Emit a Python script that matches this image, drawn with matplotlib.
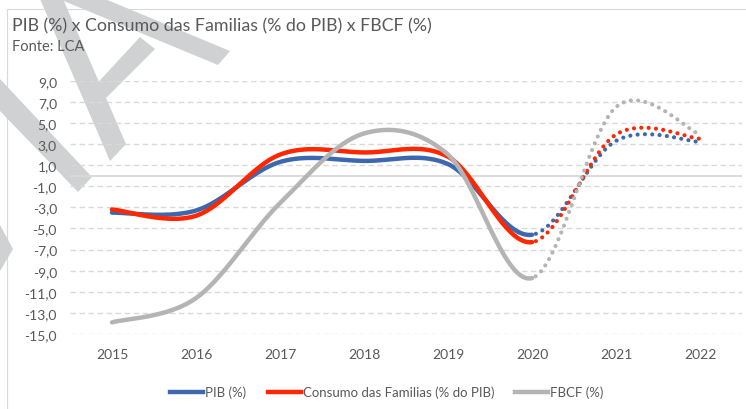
import numpy as np
import matplotlib
matplotlib.use("Agg")
import matplotlib.pyplot as plt
from matplotlib.patches import Polygon, Rectangle

plt.rcParams['font.family'] = ['Lato', 'DejaVu Sans']

# Data; 2021-2022 are projections (dotted)
anos = ['2015', '2016', '2017', '2018', '2019', '2020', '2021', '2022']
pib = [-3.5, -3.3, 1.3, 1.4, 1.1, -5.6, 3.3, 3.2]
consumo = [-3.2, -3.8, 2.0, 2.2, 1.8, -6.3, 3.9, 3.5]
fbcf = [-13.9, -11.6, -2.6, 4.0, 2.0, -9.7, 6.5, 3.9]
inicio_proj = 5  # index of 2020, where the dotted part starts

AZUL = '#3d68ad'
VERMELHO = '#ff2600'
CINZA = '#b4b4b4'
TEXTO = '#595959'
GRADE = '#d9d9d9'

W, H = 746, 410


def smooth(xs, ys, n=40):
    # Excel-like smoothed line (cubic bezier through the points)
    pts = np.column_stack([xs, ys]).astype(float)
    out = []
    for i in range(len(pts) - 1):
        p0 = pts[i - 1] if i > 0 else pts[i]
        p1 = pts[i]
        p2 = pts[i + 1]
        p3 = pts[i + 2] if i + 2 < len(pts) else pts[i + 1]
        c1 = p1 + (p2 - p0) / 6
        c2 = p2 - (p3 - p1) / 6
        t = np.linspace(0, 1, n)[:, None]
        seg = (1 - t)**3 * p1 + 3 * (1 - t)**2 * t * c1 + 3 * (1 - t) * t**2 * c2 + t**3 * p2
        out.append(seg if i == 0 else seg[1:])
    return np.vstack(out)


fig = plt.figure(figsize=(W / 100, H / 100), dpi=100)

# chart border
fig.patches.append(Rectangle((7 / W, -0.1), 1.2, 1 - 10 / H + 0.1, transform=fig.transFigure,
                             fill=False, edgecolor='#d9d9d9', linewidth=0.8, zorder=-2))

# watermark strokes (pixel coords)
marca = [
    [(40, 0), (63, 0), (126, 145), (110, 162)],
    [(59, 0), (105, 0), (230, 52), (218, 66)],
    [(92, 90), (140, 38), (155, 50), (105, 100)],
    [(0, 80), (0, 112), (78, 193), (92, 178)],
    [(0, 226), (13, 250), (0, 272)],
]
for poly in marca:
    pts = [(x / W, 1 - y / H) for x, y in poly]
    fig.patches.append(Polygon(pts, closed=True, transform=fig.transFigure,
                               facecolor='#d0d1d3', edgecolor='none', zorder=-1))

ax = fig.add_axes([70 / W, 1 - 335 / H, 672 / W, (335 - 81.7) / H])
ax.patch.set_alpha(0)

x = np.arange(len(anos))
for serie, cor in [(pib, AZUL), (consumo, VERMELHO), (fbcf, CINZA)]:
    s = smooth(x, serie)
    real = s[:, 0] <= inicio_proj
    proj = s[:, 0] >= inicio_proj
    ax.plot(s[real, 0], s[real, 1], color=cor, lw=3.2, solid_capstyle='round', zorder=3)
    ax.plot(s[proj, 0], s[proj, 1], color=cor, lw=3.0, linestyle=(0.8, (0.01, 1.75)),
            dash_capstyle='round', zorder=3)

ax.set_xlim(-0.5, 7.5)
ax.set_ylim(-15, 9)
ax.set_yticks(np.arange(-15, 10, 2))
ax.set_yticklabels([f'{v:.1f}'.replace('.', ',') for v in np.arange(-15, 10, 2)])
ax.set_xticks(x)
ax.set_xticklabels(anos)
ax.grid(axis='y', color=GRADE, linestyle=(0, (4, 2.5)), linewidth=1)
ax.axhline(0, color=GRADE, lw=1.3, zorder=1)
ax.set_axisbelow(True)
for sp in ax.spines.values():
    sp.set_visible(False)
ax.tick_params(length=0, labelsize=10, labelcolor=TEXTO)
ax.tick_params(axis='y', pad=9.4)
ax.tick_params(axis='x', pad=10)

fig.text(12 / W, 1 - 26 / H, 'PIB (%) x Consumo das Familias (% do PIB) x FBCF (%)',
         fontsize=12.8, color=TEXTO, va='center')
fig.text(12 / W, 1 - 47 / H, 'Fonte: LCA', fontsize=10.5, color=TEXTO, va='center')

handles = [plt.Line2D([], [], color=c, lw=3.2) for c in (AZUL, VERMELHO, CINZA)]
fig.legend(handles, ['PIB (%)', 'Consumo das Familias (% do PIB)', 'FBCF (%)'],
           loc='center', bbox_to_anchor=(387 / W, 1 - 393 / H), ncol=3, frameon=False,
           fontsize=9.5, labelcolor=TEXTO, handlelength=2.5, handletextpad=0.15,
           columnspacing=1.6)

fig.savefig('out.png', dpi=100)
